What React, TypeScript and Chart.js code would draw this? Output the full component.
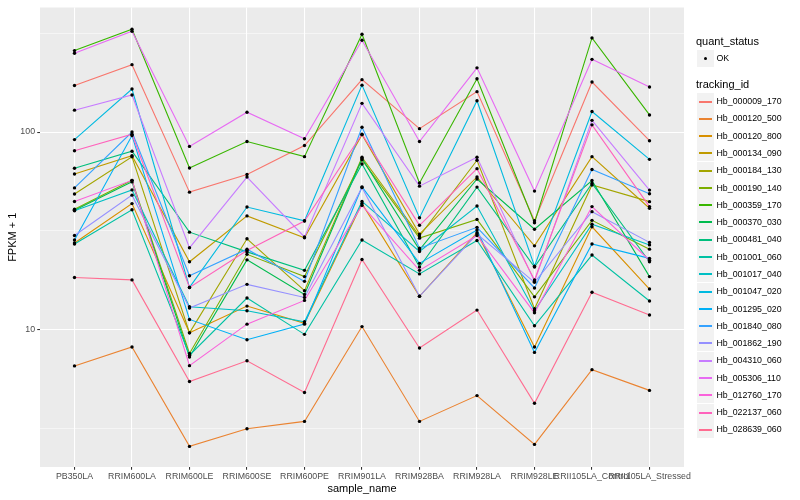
import React, { useEffect, useRef } from "react";
import { Chart, registerables } from "chart.js";

Chart.register(...registerables);

const FONT = '"Liberation Sans", Arial, Helvetica, sans-serif';

const categories = [
  "PB350LA", "RRIM600LA", "RRIM600LE", "RRIM600SE", "RRIM600PE", "RRIM901LA",
  "RRIM928BA", "RRIM928LA", "RRIM928LE", "RRII105LA_Control", "RRII105LA_Stressed",
];

const trackingIds = [
  "Hb_000009_170", "Hb_000120_500", "Hb_000120_800", "Hb_000134_090", "Hb_000184_130",
  "Hb_000190_140", "Hb_000359_170", "Hb_000370_030", "Hb_000481_040", "Hb_001001_060",
  "Hb_001017_040", "Hb_001047_020", "Hb_001295_020", "Hb_001840_080", "Hb_001862_190",
  "Hb_004310_060", "Hb_005306_110", "Hb_012760_170", "Hb_022137_060", "Hb_028639_060",
];

const trackingColors = [
  "#F8766D", "#EA8331", "#D89000", "#C09B00", "#A3A500", "#7CAE00", "#39B600",
  "#00BB4E", "#00BF7D", "#00C1A3", "#00BFC4", "#00BAE0", "#00B0F6", "#35A2FF",
  "#9590FF", "#C77CFF", "#E76BF3", "#FA62DB", "#FF62BC", "#FF6C91",
];

const hb000009_170 = [172, 219, 49.7, 61, 85.5, 184, 104, 160, 35.6, 179, 90.4];
const hb000120_500 = [6.58, 8.2, 2.58, 3.17, 3.45, 10.4, 3.45, 4.66, 2.64, 6.3, 4.95];
const hb000120_800 = [27.5, 43.5, 9.67, 13.2, 10.8, 43.5, 14.8, 31, 8.2, 33.2, 16.1];
const hb000134_090 = [61.4, 76, 22.1, 37.7, 29.2, 97, 30.5, 59.3, 26.6, 75.1, 41.2];
const hb000184_130 = [48.6, 75, 9.67, 28.9, 15.8, 74.6, 29.8, 72, 12.8, 54, 44.5];
const hb000190_140 = [40.7, 57, 7.6, 24.1, 18.6, 72.4, 29.1, 36.2, 14.7, 35.8, 25.6];
const hb000359_170 = [258, 331, 65.8, 89.6, 75.1, 312, 55.3, 186, 34.8, 299, 122];
const hb000370_030 = [40.3, 56, 7.3, 22.6, 15.1, 73.5, 25.4, 57.9, 32.3, 56.9, 18.6];
const hb000481_040 = [65.6, 80, 31.2, 24.8, 20, 69, 20.8, 52.7, 20.8, 55, 22.1];
const hb001001_060 = [27.2, 40.5, 7.45, 14.5, 9.5, 28.5, 19.2, 28.3, 10.5, 23.9, 14];
const hb001017_040 = [40, 51, 13.1, 12.5, 11.0, 44.6, 24.9, 42.3, 12.5, 34.2, 26.9];
const hb001047_020 = [91.6, 165, 16.4, 41.8, 35.6, 172.6, 36.9, 144, 21, 127, 72.8];
const hb001295_020 = [28.5, 96, 11.3, 8.92, 10.7, 52.8, 21.7, 32, 7.7, 27.2, 23];
const hb001840_080 = [52.2, 100, 18.8, 25.6, 17.6, 105.7, 25.9, 33, 16.3, 64.7, 48.8];
const hb001862_190 = [30, 48, 12.9, 17, 14.6, 52.5, 14.8, 30.5, 17.4, 39.6, 27.7];
const hb004310_060 = [129, 154, 26, 59.2, 29.5, 139.6, 53.3, 74.6, 17.6, 114.6, 50.9];
const hb005306_110 = [250, 323, 84.6, 126, 92.5, 291, 89.6, 211, 50.3, 233, 169];
const hb012760_170 = [44.6, 57, 6.6, 10.7, 14.1, 42.6, 20, 30, 12.2, 42, 22.5];
const hb022137_060 = [80.5, 97.5, 16.4, 25.2, 35.5, 97.5, 33.8, 65.3, 17.9, 108.7, 42];
const hb028639_060 = [18.4, 17.9, 5.49, 6.99, 4.83, 22.7, 8.1, 12.6, 4.26, 15.5, 11.9];

const seriesValues = [
  hb000009_170, hb000120_500, hb000120_800, hb000134_090, hb000184_130,
  hb000190_140, hb000359_170, hb000370_030, hb000481_040, hb001001_060,
  hb001017_040, hb001047_020, hb001295_020, hb001840_080, hb001862_190,
  hb004310_060, hb005306_110, hb012760_170, hb022137_060, hb028639_060,
];

const yMajorTicks = [10, 100];
const yMinorTicks = [3.1623, 31.623, 316.23];
const yRange = [2.03, 426];
const statusLevels = ["OK"];

const KEY = 17.28;

export default function App() {
  const ref = useRef<HTMLCanvasElement>(null);

  useEffect(() => {
    const canvas = ref.current;
    if (!canvas) return;

    const panelBg = {
      id: "panelBg",
      beforeDraw(chart: any) {
        const { ctx, chartArea: a } = chart;
        ctx.save();
        ctx.fillStyle = "#EBEBEB";
        ctx.fillRect(a.left, a.top, a.right - a.left, a.bottom - a.top);
        ctx.restore();
      },
    };

    const n = seriesValues.length;
    const lineSets: any[] = seriesValues.map((vals, k) => ({
      type: "line",
      label: trackingIds[k],
      data: vals.map((v, i) => ({ x: i, y: v })),
      borderColor: trackingColors[k],
      backgroundColor: trackingColors[k],
      borderWidth: 1.1,
      pointRadius: 0,
      fill: false,
      tension: 0,
      order: n - k + 1,
    }));

    const pointSet: any = {
      type: "line",
      label: "quant_status",
      data: seriesValues.flatMap((vals) => vals.map((v, i) => ({ x: i, y: v }))),
      showLine: false,
      pointRadius: 1.7,
      pointBackgroundColor: "#000000",
      pointBorderWidth: 0,
      pointBorderColor: "#000000",
      order: 1,
    };

    const chart = new Chart(canvas, {
      type: "line",
      data: { datasets: [...lineSets, pointSet] },
      options: {
        animation: false,
        responsive: false,
        maintainAspectRatio: false,
        layout: { padding: { left: 0, top: 5.5, right: 116, bottom: 0 } },
        plugins: {
          legend: { display: false },
          tooltip: { enabled: false },
        },
        scales: {
          x: {
            type: "linear",
            min: -0.6,
            max: categories.length - 1 + 0.6,
            bounds: "data",
            afterBuildTicks: (s: any) => {
              s.ticks = categories.map((_, i) => ({ value: i }));
            },
            afterFit: (s: any) => {
              s.height = 33;
            },
            ticks: {
              autoSkip: false,
              maxRotation: 0,
              minRotation: 0,
              padding: 2,
              color: "#4D4D4D",
              font: { size: 8.8, family: FONT },
              callback: (v: any) => categories[v as number] ?? "",
            },
            grid: {
              color: "#FFFFFF",
              lineWidth: 1.07,
              tickColor: "#333333",
              tickLength: 2.75,
              drawTicks: true,
            },
            border: { display: false },
            title: {
              display: true,
              text: "sample_name",
              color: "#000000",
              font: { size: 11, family: FONT },
              padding: { top: 0, bottom: 4.4 },
            },
          },
          y: {
            type: "logarithmic",
            min: yRange[0],
            max: yRange[1],
            bounds: "data",
            afterBuildTicks: (s: any) => {
              s.ticks = [...yMinorTicks, ...yMajorTicks]
                .sort((a, b) => a - b)
                .map((v) => ({ value: v }));
            },
            afterFit: (s: any) => {
              s.width = 40;
            },
            ticks: {
              padding: 2.2,
              color: "#4D4D4D",
              font: { size: 8.8, family: FONT },
              callback: (v: any) => (yMajorTicks.includes(v) ? String(v) : ""),
            },
            grid: {
              color: "#FFFFFF",
              lineWidth: (c: any) => (yMajorTicks.includes(c.tick?.value) ? 1.07 : 0.53),
              tickColor: (c: any) =>
                yMajorTicks.includes(c.tick?.value) ? "#333333" : "rgba(0,0,0,0)",
              tickLength: 2.75,
              drawTicks: true,
            },
            border: { display: false },
            title: {
              display: true,
              text: "FPKM + 1",
              color: "#000000",
              font: { size: 11, family: FONT },
              padding: { top: 6, bottom: 0 },
            },
          },
        },
      } as any,
      plugins: [panelBg],
    });

    return () => chart.destroy();
  }, []);

  const textStyle = (size: number): React.CSSProperties => ({
    fontFamily: FONT,
    fontSize: size,
    color: "#000000",
    whiteSpace: "nowrap",
    lineHeight: "14px",
    height: 14,
    position: "absolute",
  });

  return (
    <div
      style={{
        position: "absolute",
        left: 0,
        top: 0,
        width: 800,
        height: 500,
        background: "#FFFFFF",
        overflow: "hidden",
      }}
    >
      <canvas ref={ref} width={800} height={500} style={{ width: 800, height: 500, display: "block" }} />
      <div style={{ ...textStyle(11), left: 696, top: 40.5 - 7 }}>quant_status</div>
      {statusLevels.map((s, i) => (
        <React.Fragment key={s}>
          <div
            style={{
              position: "absolute",
              left: 697,
              top: Math.round(49.5 + i * KEY),
              width: 17,
              height: 17,
              background: "#F2F2F2",
            }}
          >
            <div
              style={{
                position: "absolute",
                left: 7,
                top: 7,
                width: 3.4,
                height: 3.4,
                borderRadius: "50%",
                background: "#000000",
              }}
            />
          </div>
          <div style={{ ...textStyle(8.8), left: 716.5, top: 49.5 + i * KEY + KEY / 2 - 7 }}>{s}</div>
        </React.Fragment>
      ))}
      <div style={{ ...textStyle(11), left: 696, top: 84 - 7 }}>tracking_id</div>
      {trackingIds.map((id, i) => (
        <React.Fragment key={id}>
          <div
            style={{
              position: "absolute",
              left: 697,
              top: Math.round(92.5 + i * KEY),
              width: 17,
              height: 17,
              background: "#F2F2F2",
            }}
          >
            <div
              style={{
                position: "absolute",
                left: 2,
                width: 13,
                top: 8,
                height: 1.5,
                background: trackingColors[i],
              }}
            />
          </div>
          <div style={{ ...textStyle(8.8), left: 716.5, top: 92.5 + i * KEY + KEY / 2 - 7 }}>{id}</div>
        </React.Fragment>
      ))}
    </div>
  );
}
